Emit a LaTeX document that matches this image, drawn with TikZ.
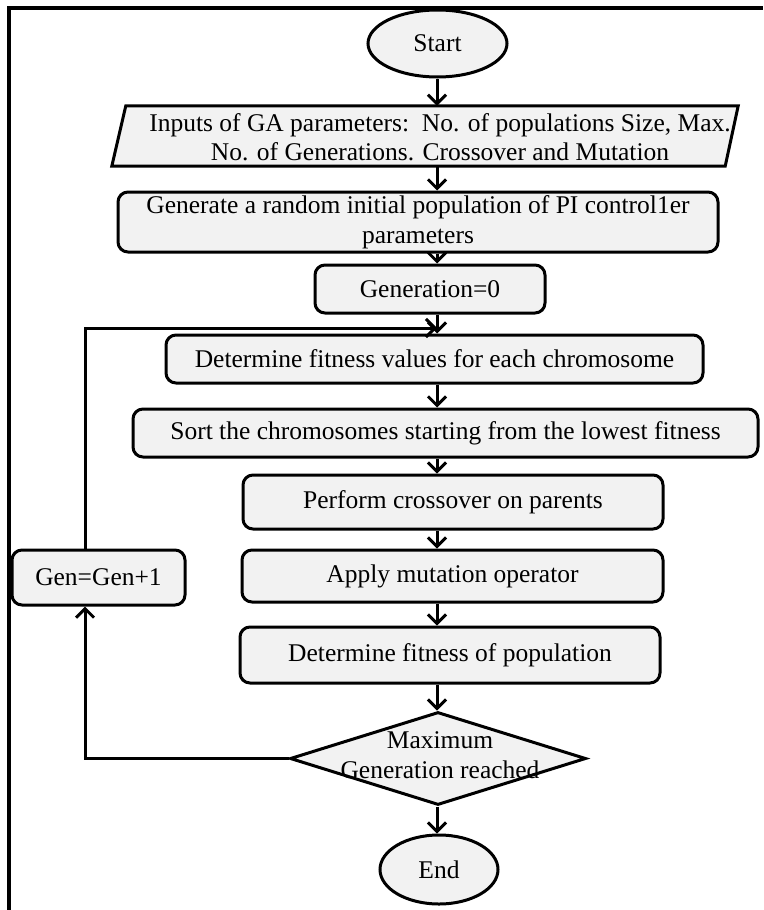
\documentclass[tikz,border=0pt]{standalone}
\usepackage{fontspec}
\setmainfont{Liberation Serif}
\usetikzlibrary{arrows.meta,shapes.geometric}
\definecolor{boxfill}{RGB}{242,242,242}
\begin{document}
\begin{tikzpicture}[x=1pt,y=-1pt,
  lbl/.style={font=\fontsize{25.5}{29.5}\selectfont, align=center, inner sep=0pt},
  base/.style={draw=black, line width=3pt, fill=boxfill, lbl},
  rbox/.style={base, rectangle, rounded corners=10pt},
  term/.style={base, ellipse},
  decis/.style={base, diamond},
  lnk/.style={line width=3pt},
  arr/.style={lnk, -{Straight Barb[length=9pt,width=18pt]}},
  frame/.style={line width=4pt}
]
\useasboundingbox (0,0) rectangle (763,910);
% outer frame
\draw[frame] (9,910) -- (9,7.5) -- (763,7.5);
\coordinate (spine) at (437,0);

% nodes
\node[term, minimum width=139pt, minimum height=67pt] (start) at (437.5,43.5) {Start};

\node[draw=none, minimum width=626pt, minimum height=60pt, inner sep=0pt] (inp) at (425,136) {};
\draw[lnk, fill=boxfill] ([xshift=14pt]inp.north west) -- (inp.north east)
  -- ([xshift=-13pt]inp.south east) -- (inp.south west) -- cycle;
\node[lbl] (inptxt) at (440,137) {Inputs of GA parameters:\ \ No. of populations Size, Max.\\No. of Generations. Crossover and Mutation};

\node[rbox, minimum width=600pt, minimum height=60pt] (gen) at (418,222) {Generate a random initial population of PI control1er\\parameters};
\node[rbox, minimum width=230pt, minimum height=48pt] (gen0) at (430,289) {Generation=0};
\node[rbox, minimum width=537pt, minimum height=48pt] (det) at (434.5,359) {Determine fitness values for each chromosome};
\node[rbox, minimum width=625pt, minimum height=48pt] (sort) at (445.5,433) {Sort the chromosomes starting from the lowest fitness};
\node[rbox, minimum width=420pt, minimum height=54pt] (cross) at (453,502) {Perform crossover on parents};
\node[rbox, minimum width=421pt, minimum height=52pt] (mut) at (452.5,576) {Apply mutation operator};
\node[rbox, minimum width=420pt, minimum height=56pt] (pop) at (450,655) {Determine fitness of population};
\node[rbox, minimum width=173pt, minimum height=55pt] (gen1) at (98.5,577.5) {Gen=Gen+1};
\node[decis, minimum width=296pt, minimum height=93pt, inner sep=0pt] (dec) at (438,758.5) {};
\node[lbl] (dectxt) at (440,755) {Maximum\\Generation reached};
\node[term, minimum width=118pt, minimum height=69pt] (end) at (439,869.5) {End};

% vertical flow
\draw[arr] (start.south -| spine) -- (inp.north -| spine);
\draw[arr] (inp.south -| spine) -- (gen.north -| spine);
\draw[arr] (gen.south -| spine) -- (gen0.north -| spine);
\draw[arr] (gen0.south -| spine) -- (det.north -| spine);
\draw[arr] (det.south -| spine) -- (sort.north -| spine);
\draw[arr] (sort.south -| spine) -- (cross.north -| spine);
\draw[arr] (cross.south -| spine) -- (mut.north -| spine);
\draw[arr] (mut.south -| spine) -- (pop.north -| spine);
\draw[arr] (pop.south -| spine) -- (dec.north -| spine);
\draw[arr] (dec.south -| spine) -- (end.north -| spine);

% feedback loop
\coordinate (fbl) at (85,758.5);
\coordinate (fbt) at (85,328);
\coordinate (join) at (437,328);
\draw[arr] (dec.west) -- (fbl) -- (fbl |- gen1.south);
\draw[arr] (fbt |- gen1.north) -- (fbt) -- (join);
\end{tikzpicture}
\end{document}
